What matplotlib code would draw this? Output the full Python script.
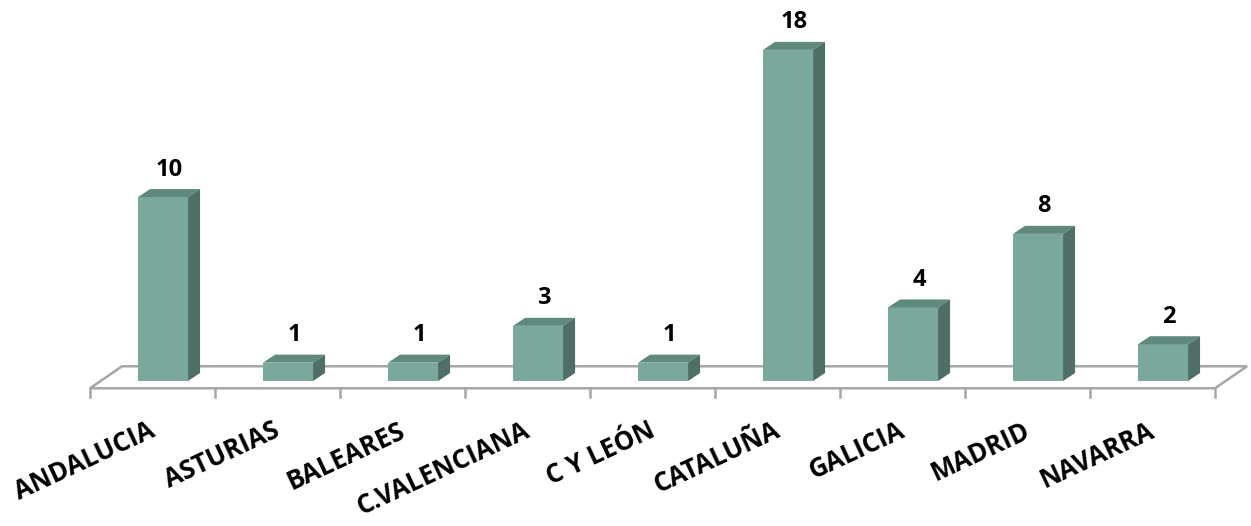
import matplotlib
matplotlib.use("Agg")
import matplotlib.pyplot as plt
from matplotlib.patches import Polygon

regions = ["ANDALUCIA", "ASTURIAS", "BALEARES", "C.VALENCIANA", "C Y LEÓN",
           "CATALUÑA", "GALICIA", "MADRID", "NAVARRA"]
counts = [10, 1, 1, 3, 1, 18, 4, 8, 2]

# colours of the three visible bar faces and the floor
FRONT = "#7BA89C"
TOP = "#5F897D"
SIDE = "#4E6E66"
FLOOR = "#A6A6A6"

# pseudo-3D geometry (x in category units, y in value units)
FLOOR_DX, FLOOR_DY = 0.256, 1.196     # full floor depth offset
BAR_POS = 0.33                         # bar placement within floor depth
BAR_W = 0.40
BAR_DX, BAR_DY = 0.096, 0.435          # bar depth offset
FLOOR_Y0 = -BAR_POS * FLOOR_DY         # front edge of the floor

FONT = "Open Sans"

fig = plt.figure(figsize=(12.51, 5.26), dpi=100)
ax = fig.add_axes([0, 0, 1, 1])
ax.set_xlim(-1.22, 8.788)
ax.set_ylim(-7.88, 20.71)
ax.axis("off")

n = len(regions)
x0, x1 = -0.5, n - 0.5
floor = [(x0, FLOOR_Y0), (x1, FLOOR_Y0),
         (x1 + FLOOR_DX, FLOOR_Y0 + FLOOR_DY), (x0 + FLOOR_DX, FLOOR_Y0 + FLOOR_DY)]
ax.add_patch(Polygon(floor, closed=True, fill=False, edgecolor=FLOOR, lw=1.8, zorder=1))
for i in range(n + 1):
    xb = i - 0.5
    ax.plot([xb, xb], [FLOOR_Y0, FLOOR_Y0 - 0.45], color=FLOOR, lw=1.8, zorder=1)

ox = BAR_POS * FLOOR_DX
for i, (name, v) in enumerate(zip(regions, counts)):
    cx = i + ox
    l, r = cx - BAR_W / 2, cx + BAR_W / 2
    front = [(l, 0), (r, 0), (r, v), (l, v)]
    top = [(l, v), (r, v), (r + BAR_DX, v + BAR_DY), (l + BAR_DX, v + BAR_DY)]
    side = [(r, 0), (r + BAR_DX, BAR_DY), (r + BAR_DX, v + BAR_DY), (r, v)]
    ax.add_patch(Polygon(front, closed=True, facecolor=FRONT, edgecolor="none", zorder=3))
    ax.add_patch(Polygon(top, closed=True, facecolor=TOP, edgecolor="none", zorder=3))
    ax.add_patch(Polygon(side, closed=True, facecolor=SIDE, edgecolor="none", zorder=3))
    ax.text(cx + BAR_DX / 2, v + BAR_DY + 0.4, str(v), ha="center", va="bottom",
            fontsize=17, fontweight="bold", family=FONT, color="black", zorder=4)
    ax.text(i - 0.04, FLOOR_Y0 - 1.55, name, rotation=25, rotation_mode="anchor",
            ha="right", va="top", fontsize=18.5, fontweight="bold", family=FONT,
            color="black")

fig.savefig("out.png", dpi=100, facecolor="white")
